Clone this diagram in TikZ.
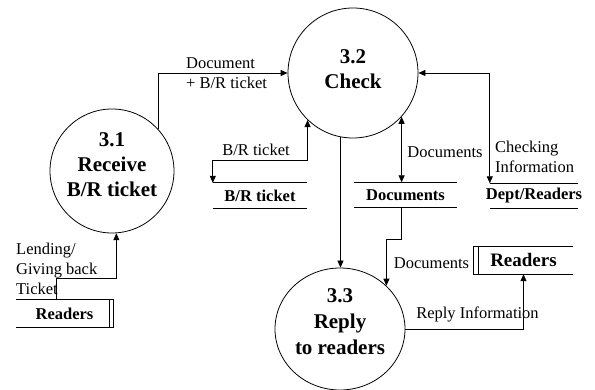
\documentclass[tikz,border=0pt]{standalone}
\usepackage{fontspec}
\setmainfont{Liberation Serif}
\usetikzlibrary{arrows.meta,calc,shapes.geometric}
\begin{document}
\begin{tikzpicture}[x=1pt,y=-1pt,
  proc/.style={circle,draw,line width=0.8pt,minimum size=#1,inner sep=0pt},
  ptext/.style={align=center,inner sep=0pt,font=\fontsize{21}{25}\selectfont\bfseries},
  store/.style={inner sep=0pt,minimum width=#1,minimum height=25pt,font=\fontsize{16.5}{20}\selectfont\bfseries},
  lbl/.style={inner sep=0pt,font=\fontsize{16.5}{20}\selectfont},
  sline/.style={line width=0.8pt},
  flow/.style={line width=0.8pt,-{Triangle[length=7pt,width=6pt]}},
  dflow/.style={line width=0.8pt,{Triangle[length=7pt,width=6pt]}-{Triangle[length=7pt,width=6pt]}}]
\useasboundingbox (0,0) rectangle (595,390);

% processes
\node[proc=124pt] (c31) at (112,171) {};
\node[proc=130pt] (c32) at (353,73) {};
\node[ellipse,draw,line width=0.8pt,inner sep=0pt,minimum width=130pt,minimum height=122pt] (c33) at (340,329) {};
\node[ptext] (t31) at (112,165) {3.1\\Receive\\B/R ticket};
\node[ptext] (t32) at (353,69) {3.2\\Check};
\node[ptext,font=\fontsize{21}{26}\selectfont\bfseries] (t33) at (340,322) {3.3\\Reply\\to readers};

% stores
\node[store=94pt] (brs) at (260,195.5) {B/R ticket};
\node[store=103pt] (docs) at (405.5,195) {Documents};
\node[store=88pt,inner xsep=-5pt] (dept) at (534,196) {Dept/Readers};
\node[store=99pt,minimum height=27pt,font=\fontsize{19}{22}\selectfont\bfseries] (rdr) at (523.5,260.5) {Readers};
\node[store=97pt,minimum height=27pt] (lrdr) at (64.5,313.5) {Readers};

\draw[sline] (brs.north west) -- (brs.north east) (brs.south west) -- (brs.south east);
\draw[sline] (docs.north west) -- (docs.north east) (docs.south west) -- (docs.south east);
\draw[sline] (dept.north west) -- (dept.north east) (dept.south west) -- (dept.south east);
\draw[sline] (rdr.north east) -- (rdr.north west) -- (rdr.south west) -- (rdr.south east)
  ($(rdr.north west)+(5,0)$) -- ($(rdr.south west)+(5,0)$);
\draw[sline] (lrdr.north west) -- (lrdr.north east) -- (lrdr.south east) -- (lrdr.south west)
  ($(lrdr.north east)+(-4,0)$) -- ($(lrdr.south east)+(-4,0)$);

% flows
\draw[flow] (c31.42) |- (c32.west);
\draw[dflow] (c32.226) -- ++(0,40) -| (brs.north west);
\draw[dflow] (c32.318) -- (c32.318 |- docs.north);
\draw[dflow] (c32.east) -| (dept.north west);
\draw[flow] (c32.259) -- (c32.259 |- c33.north);
\draw[flow] (c32.318 |- docs.south) -- ++(0,32) -| (c33.43);
\draw[flow] (c33.east) -| (rdr.south);
\draw[flow] ($(lrdr.north west)+(41,0)$) -- ++(0,-21) -| (c31.274);

% labels
\node[lbl,align=left,anchor=west] (l1) at (186,73) {Document\\+ B/R ticket};
\node[lbl] (l2) at (256,150) {B/R ticket};
\node[lbl] (l3) at (445,152) {Documents};
\node[lbl,align=left,anchor=west] (l4) at (495,156.5) {Checking\\Information};
\node[lbl] (l5) at (431.5,263) {Documents};
\node[lbl] (l6) at (477.5,314) {Reply Information};
\node[lbl,align=left,anchor=west] (l7) at (16,269) {Lending/\\Giving back\\Ticket};
\end{tikzpicture}
\end{document}
